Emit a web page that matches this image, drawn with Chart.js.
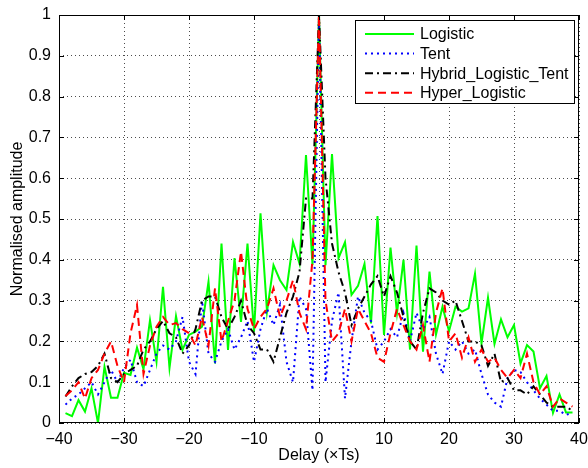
<!DOCTYPE html>
<html><head><meta charset="utf-8">
<script src="https://cdn.jsdelivr.net/npm/chart.js@4.4.0/dist/chart.umd.min.js"></script>
<style>html,body{margin:0;padding:0;background:#fff;}#wrap{width:588px;height:468px;}</style>
</head><body><div id="wrap"><canvas id="c" width="588" height="468"></canvas></div>
<script>
// Delay (lag) categories
const lags = [-39,-38,-37,-36,-35,-34,-33,-32,-31,-30,-29,-28,-27,-26,-25,-24,-23,-22,-21,-20,
  -19,-18,-17,-16,-15,-14,-13,-12,-11,-10,-9,-8,-7,-6,-5,-4,-3,-2,-1,0,
  1,2,3,4,5,6,7,8,9,10,11,12,13,14,15,16,17,18,19,20,
  21,22,23,24,25,26,27,28,29,30,31,32,33,34,35,36,37,38,39];

const xTickValues = [-40,-30,-20,-10,0,10,20,30,40];
const xTickLabels = ['\u221240','\u221230','\u221220','\u221210','0','10','20','30','40'];
const yTickValues = [0,0.1,0.2,0.3,0.4,0.5,0.6,0.7,0.8,0.9,1];
const yTickLabels = ['0','0.1','0.2','0.3','0.4','0.5','0.6','0.7','0.8','0.9','1'];

const seriesNames = ['Logistic','Tent','Hybrid_Logistic_Tent','Hyper_Logistic'];

const logistic = [0.024,0.017,0.056,0.028,0.085,0.0,0.138,0.062,0.062,0.123,
  0.118,0.185,0.132,0.252,0.15,0.334,0.135,0.262,0.179,0.216,
  0.224,0.236,0.346,0.146,0.44,0.179,0.404,0.248,0.44,0.224,
  0.514,0.273,0.387,0.35,0.326,0.444,0.391,0.657,0.387,1.0,
  0.387,0.659,0.404,0.443,0.314,0.336,0.39,0.244,0.507,0.216,
  0.43,0.27,0.40,0.18,0.435,0.175,0.371,0.217,0.285,0.225,
  0.285,0.273,0.281,0.366,0.195,0.307,0.194,0.254,0.21,0.24,
  0.146,0.191,0.175,0.085,0.115,0.025,0.07,0.026,0.026];

const tent = [0.045,0.06,0.07,0.085,0.1,0.07,0.1,0.13,0.1,0.135,
  0.155,0.1,0.09,0.13,0.17,0.19,0.18,0.2,0.26,0.15,
  0.12,0.3,0.17,0.15,0.2,0.23,0.18,0.21,0.25,0.15,
  0.23,0.28,0.24,0.29,0.15,0.1,0.31,0.28,0.08,1.0,
  0.1,0.25,0.32,0.06,0.2,0.31,0.27,0.25,0.18,0.2,
  0.23,0.21,0.27,0.2,0.27,0.23,0.26,0.17,0.12,0.2,
  0.18,0.2,0.17,0.18,0.12,0.07,0.05,0.04,0.11,0.13,
  0.125,0.1,0.08,0.06,0.045,0.03,0.03,0.02,0.025];

const hybrid = [0.065,0.09,0.11,0.12,0.125,0.14,0.17,0.11,0.1,0.12,
  0.13,0.14,0.18,0.2,0.23,0.25,0.22,0.21,0.17,0.19,
  0.23,0.3,0.31,0.31,0.26,0.23,0.26,0.3,0.24,0.22,
  0.18,0.18,0.15,0.21,0.27,0.31,0.37,0.55,0.55,1.0,
  0.6,0.44,0.37,0.32,0.24,0.28,0.31,0.34,0.36,0.31,
  0.36,0.32,0.26,0.2,0.18,0.27,0.33,0.32,0.3,0.29,
  0.3,0.25,0.2,0.2,0.19,0.14,0.17,0.1,0.11,0.08,
  0.08,0.07,0.09,0.07,0.05,0.04,0.04,0.04,0.03];

const hyper = [0.066,0.08,0.1,0.06,0.11,0.13,0.17,0.2,0.14,0.1,
  0.22,0.289,0.12,0.19,0.236,0.26,0.24,0.245,0.23,0.22,
  0.19,0.26,0.19,0.33,0.2,0.25,0.3,0.42,0.28,0.23,
  0.26,0.28,0.33,0.26,0.3,0.35,0.27,0.23,0.4,1.0,
  0.3,0.2,0.22,0.28,0.2,0.28,0.25,0.22,0.16,0.15,
  0.22,0.28,0.24,0.2,0.18,0.24,0.15,0.27,0.33,0.2,
  0.22,0.16,0.21,0.15,0.18,0.15,0.16,0.13,0.11,0.13,
  0.11,0.17,0.1,0.07,0.09,0.04,0.06,0.05,0.04];

const FONT = '"Liberation Sans", Arial, Helvetica, sans-serif';
const pts = arr => lags.map((x, i) => ({x: x, y: arr[i]}));

const deco = {
  id: 'matlabDeco',
  afterDatasetsDraw(chart) {
    const {ctx, chartArea: a, scales: {x, y}} = chart;
    ctx.save();
    ctx.strokeStyle = '#000'; ctx.lineWidth = 1; ctx.setLineDash([]);
    ctx.strokeRect(a.left + 0.5, a.top + 0.5, a.right - a.left - 1, a.bottom - a.top - 1);
    const tl = 5;
    ctx.beginPath();
    xTickValues.forEach(v => {
      const px = Math.round(x.getPixelForValue(v)) + 0.5;
      ctx.moveTo(px, a.bottom); ctx.lineTo(px, a.bottom - tl);
      ctx.moveTo(px, a.top); ctx.lineTo(px, a.top + tl);
    });
    yTickValues.forEach(v => {
      const py = Math.round(y.getPixelForValue(v)) + 0.5;
      ctx.moveTo(a.left, py); ctx.lineTo(a.left + tl, py);
      ctx.moveTo(a.right, py); ctx.lineTo(a.right - tl, py);
    });
    ctx.stroke();
    // legend
    const bx = 355.5, by = 20.5, bw = 219, bh = 83;
    ctx.fillStyle = '#fff'; ctx.fillRect(bx, by, bw, bh);
    ctx.strokeStyle = '#000'; ctx.lineWidth = 1; ctx.strokeRect(bx, by, bw, bh);
    chart.data.datasets.forEach((ds, i) => {
      const cy = 34 + i * 19.6;
      ctx.strokeStyle = ds.borderColor; ctx.lineWidth = ds.borderWidth;
      ctx.setLineDash(ds.borderDash || []);
      ctx.beginPath(); ctx.moveTo(365, cy); ctx.lineTo(414, cy); ctx.stroke();
      ctx.setLineDash([]);
      ctx.fillStyle = '#000'; ctx.font = '16px ' + FONT; ctx.textBaseline = 'middle'; ctx.textAlign = 'left';
      ctx.fillText(ds.label, 420, cy + 1);
    });
    ctx.restore();
  }
};

new Chart(document.getElementById('c'), {
  type: 'line',
  data: {
    datasets: [
      {label: seriesNames[0], data: pts(logistic), borderColor: '#00ff00', borderWidth: 2, borderDash: [], order: 4},
      {label: seriesNames[1], data: pts(tent), borderColor: '#0000ff', borderWidth: 2, borderDash: [2, 4], order: 3},
      {label: seriesNames[2], data: pts(hybrid), borderColor: '#000000', borderWidth: 2, borderDash: [8, 4, 2, 4], order: 2},
      {label: seriesNames[3], data: pts(hyper), borderColor: '#ff0000', borderWidth: 2, borderDash: [8, 5], order: 1}
    ]
  },
  options: {
    responsive: false, animation: false, devicePixelRatio: 1,
    layout: {padding: {top: 15, right: 9, left: 0, bottom: 0}},
    elements: {point: {radius: 0, hoverRadius: 0}, line: {tension: 0, fill: false}},
    plugins: {legend: {display: false}, tooltip: {enabled: false}},
    events: [],
    scales: {
      x: {
        type: 'linear', min: -40, max: 40,
        afterFit: s => { s.height = 45; s.paddingLeft = 0; s.paddingRight = 0; },
        afterBuildTicks: s => { s.ticks = xTickValues.map(v => ({value: v})); },
        ticks: {autoSkip: false, maxRotation: 0, padding: 7, color: '#000',
          font: {family: FONT, size: 16},
          callback: v => xTickLabels[xTickValues.indexOf(v)]},
        grid: {color: 'rgba(0,0,0,0.7)', lineWidth: 1, drawTicks: false},
        border: {display: false, dash: [1, 3]},
        title: {display: true, text: 'Delay (\u00d7Ts)', color: '#000',
          font: {family: FONT, size: 16, lineHeight: 1.2}, padding: {top: 0, bottom: 3}}
      },
      y: {
        type: 'linear', min: 0, max: 1,
        afterFit: s => { s.width = 59; s.paddingTop = 0; s.paddingBottom = 0; },
        afterBuildTicks: s => { s.ticks = yTickValues.map(v => ({value: v})); },
        ticks: {autoSkip: false, padding: 8, color: '#000',
          font: {family: FONT, size: 16},
          callback: v => yTickLabels[yTickValues.indexOf(v)]},
        grid: {color: 'rgba(0,0,0,0.7)', lineWidth: 1, drawTicks: false},
        border: {display: false, dash: [1, 3]},
        title: {display: true, text: 'Normalised amplitude', color: '#000',
          font: {family: FONT, size: 16, lineHeight: 1.2}, padding: {top: 8, bottom: 0}}
      }
    }
  },
  plugins: [deco]
});
</script></body></html>
